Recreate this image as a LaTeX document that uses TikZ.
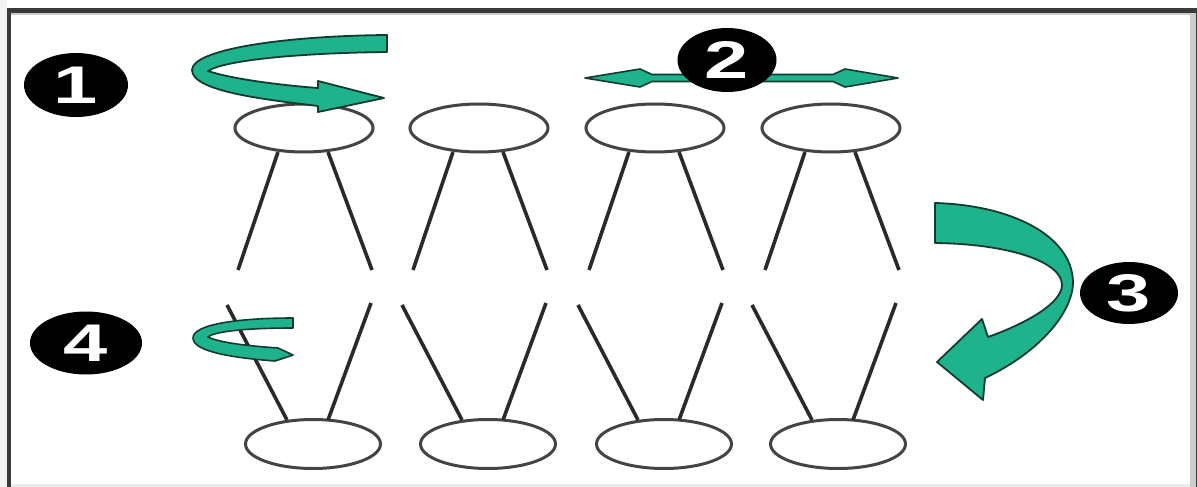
\documentclass[tikz,border=0pt]{standalone}
\usepackage{fontspec}
\setsansfont{Liberation Sans}
\newfontfamily\badgefont[FakeStretch=1.5]{Liberation Sans Bold}
\usetikzlibrary{shapes.geometric,calc}
\definecolor{tealfill}{HTML}{1EB38C}
\definecolor{tealdark}{HTML}{123B2F}
\definecolor{framedark}{HTML}{3A3A3A}
\definecolor{framelight}{HTML}{CCCCCC}
\definecolor{ellline}{HTML}{474343}
\definecolor{legline}{HTML}{2C2929}
\begin{document}
\begin{tikzpicture}[x=1pt,y=-1pt,
  topell/.style={draw=ellline, line width=3pt, ellipse, minimum width=138pt, minimum height=48pt, inner sep=0pt},
  botell/.style={draw=ellline, line width=3pt, ellipse, minimum width=135pt, minimum height=49pt, inner sep=0pt},
  leg/.style={draw=legline, line width=3.6pt},
  badge/.style={ellipse, fill=black, inner sep=0pt, text=white,
    font=\badgefont\fontsize{53}{53}\selectfont},
  greenarrow/.style={fill=tealfill, draw=tealdark, line width=1.8pt, line join=round}]
\useasboundingbox (0,0) rectangle (1197,487);
\fill[white] (0,0) rectangle (1197,487);
% frame
\fill[black!5] (0,0) rectangle (7,487);
\fill[framelight] (1190,13) rectangle (1196,487);
\fill[framelight] (10,13) rectangle (1190,15);
\fill[black!8] (10,484) rectangle (1190,487);
\fill[framedark] (7,8) rectangle (11,487);
\fill[framedark] (7,8) rectangle (1197,13);
\fill[framedark] (1196,8) rectangle (1197,487);

% top row of ellipses with legs
\foreach \i/\cx in {1/304,2/479,3/655,4/831}{
  \node[topell] (t\i) at (\cx,128) {};
  \coordinate (tla\i) at (\cx-26,152);
  \coordinate (tlb\i) at (\cx-66,270);
  \coordinate (tra\i) at (\cx+24,152);
  \coordinate (trb\i) at (\cx+68,270);
  \draw[leg] (tla\i) -- (tlb\i);
  \draw[leg] (tra\i) -- (trb\i);
}
% bottom row of ellipses with legs
\foreach \i/\cx in {1/313,2/488,3/664,4/838}{
  \node[botell] (b\i) at (\cx,444) {};
  \coordinate (bla\i) at (\cx-86,305);
  \coordinate (blb\i) at (\cx-26,420);
  \coordinate (bra\i) at (\cx+58,303);
  \coordinate (brb\i) at (\cx+15,420);
  \draw[leg] (bla\i) -- (blb\i);
  \draw[leg] (bra\i) -- (brb\i);
}

% arrow 1 (U-turn)
\draw[greenarrow] (387,35) -- (387,52) .. controls (300,53) and (225,60) .. (208,71)
  .. controls (235,80) and (290,86) .. (318,88) -- (318,81) -- (384,98) -- (318,112) -- (318,106)
  .. controls (270,100) and (192,92) .. (192,70) .. controls (192,50) and (280,36) .. (387,35) -- cycle;

% arrow 2 (double headed)
\draw[greenarrow, line width=1.6pt] (585,78) -- (640,69) -- (652,74.5) -- (833,74.5) -- (845,69) -- (898,78)
  -- (845,87) -- (833,81.5) -- (652,81.5) -- (640,87) -- cycle;

% arrow 3 (big curved)
\draw[greenarrow] (935,203) .. controls (1010,205) and (1072,235) .. (1073,282)
  .. controls (1073,312) and (1040,352) .. (985,378) -- (983,400) -- (937,362) -- (982,319) -- (988,337)
  .. controls (1030,322) and (1062,302) .. (1062,285)
  .. controls (1062,262) and (1010,244) .. (935,243) -- cycle;

% arrow 4 (small S)
\draw[greenarrow, line width=1.6pt] (293,318) -- (293,328) .. controls (250,328) and (215,331) .. (208,337)
  .. controls (220,343) and (250,346) .. (278,348) -- (293,355) -- (275,361)
  .. controls (235,358) and (193,352) .. (193,338) .. controls (193,324) and (240,318) .. (293,318) -- cycle;

% number badges
\node[badge, minimum width=104pt, minimum height=64pt] (n1) at (76,85) {1};
\node[badge, minimum width=99pt, minimum height=64pt] (n2) at (727,60) {2};
\node[badge, minimum width=98pt, minimum height=62pt] (n3) at (1129,293) {3};
\node[badge, minimum width=112pt, minimum height=63pt] (n4) at (86,343) {4};
\end{tikzpicture}
\end{document}
